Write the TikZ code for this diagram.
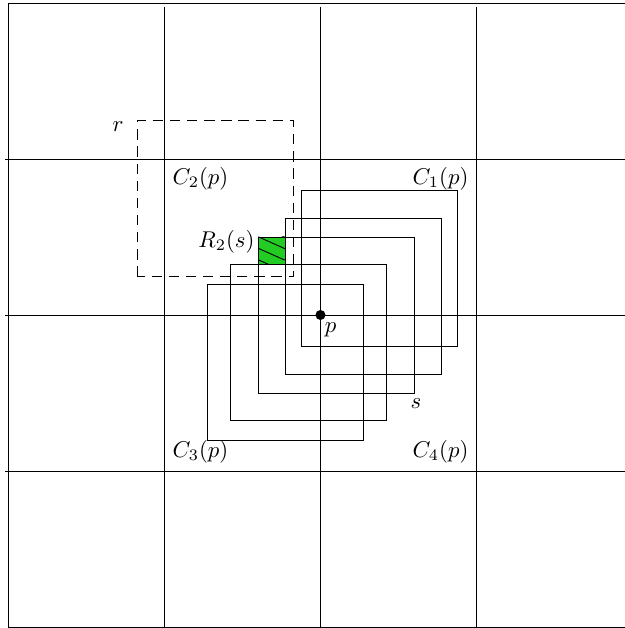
\documentclass[tikz,border=0pt]{standalone}
\usepackage{amsmath}
\usetikzlibrary{patterns.meta}

\definecolor{regiongreen}{RGB}{34,204,34}

\begin{document}
\begin{tikzpicture}[
      gridline/.style={draw=black, line width=0.4pt},
      square/.style={draw=black, line width=0.4pt},
      rangesq/.style={draw=black, line width=0.4pt, dash pattern=on 4.5pt off 3pt},
      hatch/.style={pattern={Lines[angle=-24, distance=4.6pt, line width=0.4pt]}}]

    \useasboundingbox (-4.93,-4.815) rectangle (4.67,4.846);

    % grid of cells
    \draw[gridline] (-4.8,-4.8) rectangle (4.8,4.8);
    \draw[gridline] (-4.85,2.4) -- (4.85,2.4);
    \draw[gridline] (-4.85,0) -- (4.85,0);
    \draw[gridline] (-4.85,-2.4) -- (4.85,-2.4);
    \draw[gridline] (-2.4,4.74) -- (-2.4,-4.8);
    \draw[gridline] (0,4.74) -- (0,-4.8);
    \draw[gridline] (2.4,4.74) -- (2.4,-4.8);

    \coordinate (p) at (0,0);

    % region R_2(s)
    \fill[regiongreen] (-0.955,0.78) rectangle (-0.535,1.2);
    \pattern[hatch] (-0.955,0.78) rectangle (-0.535,1.2);
    \draw[square] (-0.955,0.78) rectangle (-0.535,1.2);

    % squares around p
    \draw[square] (-0.29,-0.48) rectangle (2.11,1.92);
    \draw[square] (-0.535,-0.91) rectangle (1.865,1.49);
    \draw[square] (-0.955,-1.2) rectangle (1.445,1.2);
    \draw[square] (-1.38,-1.62) rectangle (1.02,0.78);
    \draw[square] (-1.74,-1.925) rectangle (0.66,0.475);

    % range r
    \draw[rangesq] (-2.815,0.59) rectangle (-0.415,2.99);

    \fill (p) circle (2.2pt);

    \node[anchor=north west, inner xsep=1.7pt] (plab) at (p) {$p$};
    \node[anchor=north, inner sep=2.2pt, xshift=0.7pt] (slab) at (1.445,-1.2) {$s$};
    \node (rlab) at (-3.115,2.905) {$r$};
    \node[anchor=east, inner sep=1.5pt] (rtwo) at (-0.955,1.128) {$R_2(s)$};

    \node[anchor=north west] (c2) at (-2.4,2.4) {$C_2(p)$};
    \node[anchor=north east] (c1) at (2.4,2.4) {$C_1(p)$};
    \node[anchor=south west] (c3) at (-2.4,-2.4) {$C_3(p)$};
    \node[anchor=south east] (c4) at (2.4,-2.4) {$C_4(p)$};

  \end{tikzpicture}
\end{document}
